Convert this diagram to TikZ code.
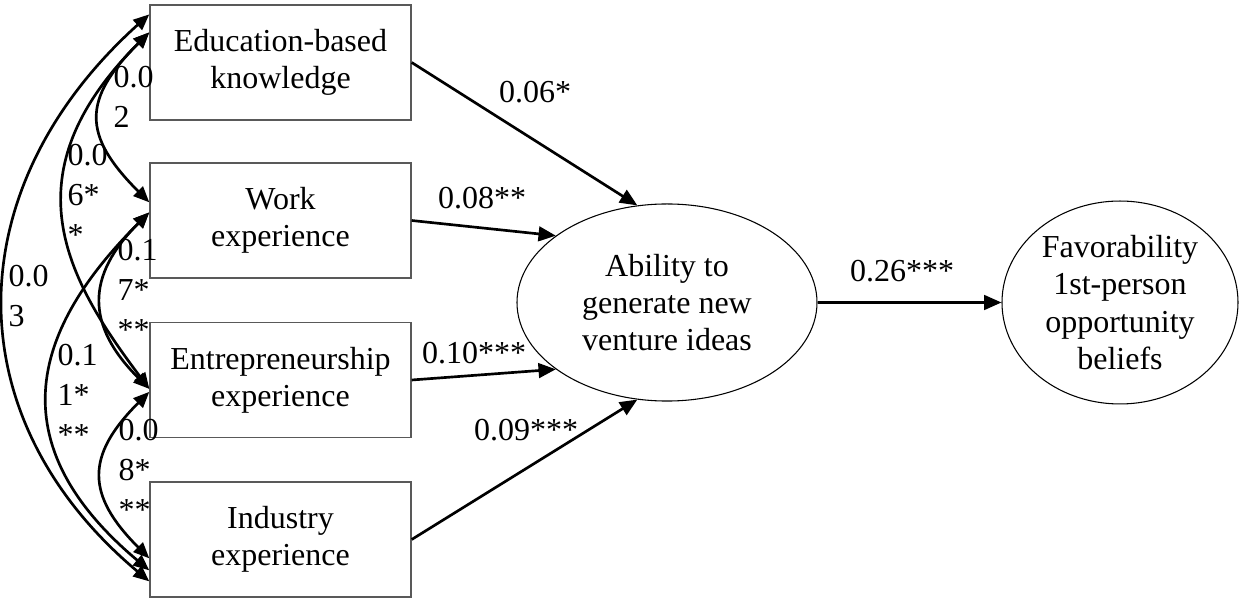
\documentclass[tikz,border=0pt]{standalone}
\usepackage{fontspec}
\setmainfont{Liberation Serif}
\usetikzlibrary{shapes.geometric,arrows.meta,calc}

\begin{document}
\begin{tikzpicture}[x=0.375pt,y=0.375pt,
    font=\fontsize{12}{14}\selectfont,
    var/.style={draw=black!65, line width=0.5pt, minimum width=97.9pt, minimum height=43.1pt, align=center, inner sep=0pt},
    lat/.style={draw, ellipse, line width=0.4pt, inner sep=0pt, align=center},
    arr/.style={-{Triangle[length=6.5pt,width=5.5pt]}, line width=1pt},
    cov/.style={{Triangle[length=6pt,width=5pt]}-{Triangle[length=6pt,width=5pt]}, line width=1pt},
    coef/.style={inner sep=0pt},
    covlab/.style={inner sep=0pt, anchor=west, align=left, font=\fontsize{12}{15}\selectfont}]
    \useasboundingbox (0,0) rectangle (1247,600);

    % observed variables
    \foreach \n/\y/\t in {edu/537.5/{Education-based\\knowledge}, work/379.5/{Work\\experience},
        entre/220/{Entrepreneurship\\experience}, ind/60.5/{Industry\\experience}}
        \node[var] (\n) at (280.5,\y) {\t};

    % latent variables
    \node[lat, minimum width=112.5pt, minimum height=73.9pt] (abil) at (667,297.5) {Ability to\\generate new\\venture ideas};
    \node[lat, minimum width=88.5pt, minimum height=76.1pt] (fav) at (1120,297.5) {Favorability\\1st-person\\opportunity\\beliefs};

    % paths
    \draw[arr] (edu.east) -- (abil.107);
    \draw[arr] (work.east) -- (abil.149);
    \draw[arr] (entre.east) -- (abil.211);
    \draw[arr] (ind.east) -- (abil.253);
    \draw[arr] (abil.east) -- (fav.west);
    \node[coef] at (535,508) {0.06*};
    \node[coef] at (482,402) {0.08**};
    \node[coef] at (474,247) {0.10***};
    \node[coef] at (526,170) {0.09***};
    \node[coef] at (902,329) {0.26***};

    % covariances
    \coordinate (e1) at ($(edu.north west)+(0,-10)$);
    \coordinate (e2) at ($(edu.north west)+(0,-28)$);
    \coordinate (w1) at ($(work.north west)+(0,-40)$);
    \coordinate (w2) at ($(work.north west)+(0,-50)$);
    \coordinate (n1) at ($(entre.north west)+(0,-67)$);
    \coordinate (n2) at ($(entre.north west)+(0,-70)$);
    \coordinate (i1) at ($(ind.north west)+(0,-77)$);
    \coordinate (i2) at ($(ind.north west)+(0,-89)$);
    \coordinate (i3) at ($(ind.north west)+(0,-100)$);
    \draw[cov] (e2) .. controls +(225:95) and +(135:95) .. (w1);
    \draw[cov] (e2) .. controls +(225:200) and +(127:140) .. (n1);
    \draw[cov] (e1) .. controls +(222:257) and +(140:257) .. (i3);
    \draw[cov] (w2) .. controls +(225:90) and +(135:90) .. (n1);
    \draw[cov] (w2) .. controls +(225:150) and +(140:210) .. (i2);
    \draw[cov] (n2) .. controls +(225:90) and +(135:90) .. (i1);
    \node[covlab] at (113,503.5) {0.0\\2};
    \node[covlab] at (67,405) {0.0\\6*\\*};
    \node[covlab] at (8,304) {0.0\\3};
    \node[covlab] at (117,310) {0.1\\7*\\**};
    \node[covlab] at (57,205) {0.1\\1*\\**};
    \node[covlab] at (118,130) {0.0\\8*\\**};
\end{tikzpicture}
\end{document}
